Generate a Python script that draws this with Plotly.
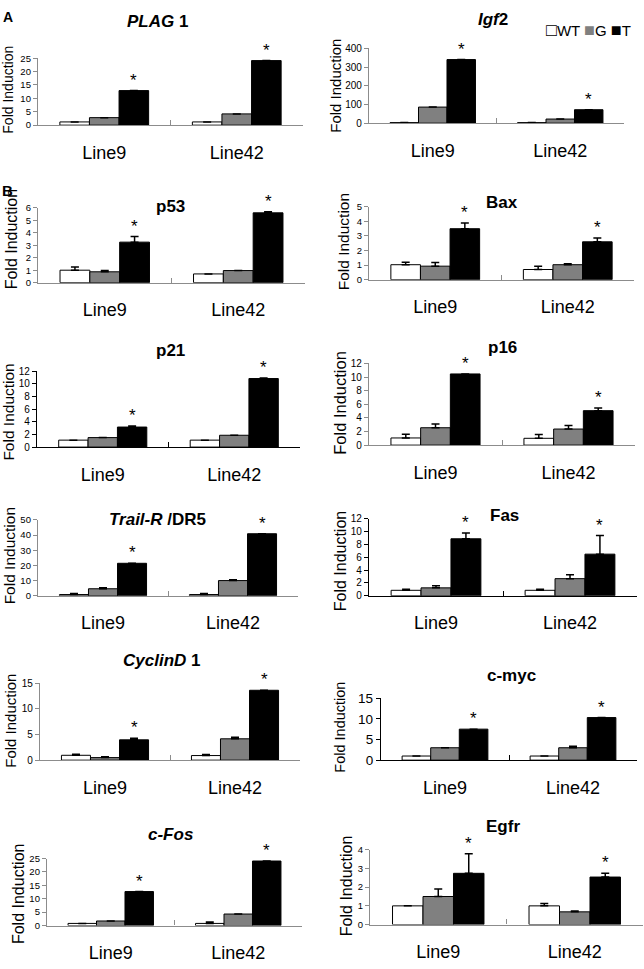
import plotly.graph_objects as go

# ---------------- data ----------------
CATEGORIES = ["Line9", "Line42"]
SERIES = ["WT", "G", "T"]
GENES = ["PLAG1", "Igf2", "p53", "Bax", "p21", "p16",
         "Trail-R/DR5", "Fas", "CyclinD1", "c-myc", "c-Fos", "Egfr"]
TITLES = ["<i>PLAG</i> 1", "<i>Igf</i>2", "p53", "Bax", "p21", "p16",
          "<i>Trail-R</i> /DR5", "Fas", "<i>CyclinD</i> 1", "c-myc", "<i>c-Fos</i>", "Egfr"]

WT_VALUES = [[1.2, 1.2], [3, 3], [1.0, 0.7], [1.03, 0.7], [1.1, 1.1], [1.05, 1.0],
             [0.8, 0.8], [0.85, 0.85], [0.95, 0.9], [1.0, 1.0], [0.8, 0.8], [1.0, 1.0]]
WT_ERR = [[0, 0], [0, 0], [0.25, 0], [0.17, 0.23], [0, 0], [0.55, 0.55],
          [0.7, 0.7], [0.15, 0.15], [0.2, 0.2], [0, 0], [0, 0.5], [0, 0.12]]
G_VALUES = [[2.8, 4.2], [86, 22], [0.87, 0.97], [0.93, 1.03], [1.5, 1.87], [2.55, 2.36],
            [4.6, 10.0], [1.23, 2.67], [0.5, 4.17], [3.0, 3.0], [1.7, 4.3], [1.5, 0.68]]
G_ERR = [[0, 0], [0, 0], [0.1, 0], [0.25, 0.07], [0, 0], [0.55, 0.53],
         [0.6, 0.6], [0.35, 0.6], [0.15, 0.3], [0, 0.35], [0, 0], [0.4, 0.05]]
T_VALUES = [[12.9, 24.1], [340, 72], [3.25, 5.6], [3.5, 2.6], [3.17, 10.85], [10.45, 5.06],
            [21.4, 40.9], [8.9, 6.5], [3.97, 13.65], [7.5, 10.3], [12.7, 24.1], [2.74, 2.54]]
T_ERR = [[0, 0], [0, 0], [0.45, 0.08], [0.4, 0.27], [0.15, 0.1], [0, 0.39],
         [0, 0], [0.9, 2.9], [0.3, 0], [0, 0], [0, 0], [1.05, 0.2]]

Y_MAX = [25, 400, 6, 5, 12, 12, 50, 12, 15, 15, 25, 4]
Y_DTICK = [5, 100, 1, 1, 2, 2, 10, 2, 5, 5, 5, 1]

# ---------------- layout config (pixels) ----------------
W, H = 644, 969
# plot box: x0, x1, ytop, ybottom
BOXES = [(38, 303, 52, 120), (369, 624, 42, 118),
         (38, 305, 204, 280), (369, 634, 203, 277),
         (37, 300, 370, 447), (369, 635, 362, 445),
         (38, 298, 521, 598), (369, 637, 520, 598),
         (40, 300, 687, 765), (381, 637, 702, 765),
         (47, 302, 865, 933), (370, 643, 856, 932)]
TITLE_POS = [(157, 15), (493, 13), (170, 203), (502, 199), (171, 349), (502, 346),
             (157, 521), (504, 516), (162, 664), (512, 679), (171, 841), (503, 832)]
YTITLE_POS = [(8, 84, 14), (336, 80, 15), (11, 236, 16), (343, 239, 15.5),
              (9, 412, 15.5), (340, 402, 16.5), (9, 558, 15.5), (340, 563, 16),
              (11, 725, 15), (340, 732, 14.5), (18, 901, 16), (346, 893, 16)]
TICK_SIZE = [9.5, 10, 9.5, 9.5, 10, 10, 9.5, 10, 10, 13.5, 9.5, 9.5]
BLACK_AXIS = [False, False, False, False, True, False, False, True, False, True, False, False]
FILLS = ["white", "#808080", "black"]
FONT = "Liberation Sans, Arial, sans-serif"
BARGAP = 0.33

fig = go.Figure()
annotations = []
layout = {}

for i, gene in enumerate(GENES):
    k = "" if i == 0 else str(i + 1)
    xa, ya = "x" + k, "y" + k
    x0, x1, yt, yb = BOXES[i]
    vals = [WT_VALUES[i], G_VALUES[i], T_VALUES[i]]
    errs = [WT_ERR[i], G_ERR[i], T_ERR[i]]
    for s, name in enumerate(SERIES):
        fig.add_trace(go.Bar(
            x=CATEGORIES, y=vals[s], name=name, xaxis=xa, yaxis=ya,
            marker=dict(color=FILLS[s], line=dict(color="black", width=1)),
            error_y=dict(type="data", array=errs[s], arrayminus=[0, 0], symmetric=False,
                         color="black", thickness=1.5, width=4,
                         visible=True),
            showlegend=False, offsetgroup=str(s),
        ))
    axcol = "black" if BLACK_AXIS[i] else "#8c8c8c"
    layout["xaxis" + k] = dict(
        domain=[x0 / W, x1 / W], anchor=ya, type="category",
        categoryorder="array", categoryarray=CATEGORIES,
        showline=True, linecolor=axcol, linewidth=1.3,
        ticks="inside", tickson="boundaries", ticklen=5, tickcolor=axcol, tickwidth=1.3,
        tickfont=dict(family=FONT, size=18, color="black"), ticklabelstandoff=11,
        showgrid=False, zeroline=False, fixedrange=True,
    )
    layout["yaxis" + k] = dict(
        domain=[(H - yb) / H, (H - yt) / H], anchor=xa,
        range=[0, Y_MAX[i]], dtick=Y_DTICK[i], tick0=0,
        showline=True, linecolor=axcol, linewidth=1.3,
        ticks="outside", ticklen=4, tickcolor=axcol, tickwidth=1.3,
        tickfont=dict(family=FONT, size=TICK_SIZE[i], color="black"),
        showgrid=False, zeroline=False, fixedrange=True,
    )
    # title
    tx, ty = TITLE_POS[i]
    annotations.append(dict(text="<b>" + TITLES[i] + "</b>", x=tx / W, y=1 - ty / H,
                            xref="paper", yref="paper", showarrow=False,
                            xanchor="center", yanchor="middle",
                            font=dict(family=FONT, size=17, color="black")))
    # y title
    fx, fy, fs = YTITLE_POS[i]
    annotations.append(dict(text="Fold Induction", x=fx / W, y=1 - fy / H,
                            xref="paper", yref="paper", showarrow=False, textangle=-90,
                            xanchor="center", yanchor="middle",
                            font=dict(family=FONT, size=fs, color="black")))
    # significance stars above T bars
    toff = (1 - BARGAP) / 3
    for c in range(len(CATEGORIES)):
        annotations.append(dict(text="*", x=c + toff, y=T_VALUES[i][c] + T_ERR[i][c],
                                xref=xa, yref=ya, showarrow=False,
                                xanchor="center", yanchor="bottom", yshift=-1,
                                font=dict(family=FONT, size=17, color="black")))

# panel letters
annotations.append(dict(text="<b>A</b>", x=8 / W, y=1 - 10 / H, xref="paper", yref="paper",
                        showarrow=False, xanchor="center", yanchor="middle",
                        font=dict(family=FONT, size=14, color="black")))
annotations.append(dict(text="<b>B</b>", x=7 / W, y=1 - 186 / H, xref="paper", yref="paper",
                        showarrow=False, xanchor="center", yanchor="middle",
                        font=dict(family=FONT, size=15, color="black")))
# legend key
legend_txt = ("<span style='font-size:18px'>□</span>WT "
              "<span style='color:#808080;font-size:18px'>■</span>G "
              "<span style='font-size:18px'>■</span>T")
annotations.append(dict(text=legend_txt, x=588 / W, y=1 - 23 / H, xref="paper", yref="paper",
                        showarrow=False, xanchor="center", yanchor="middle",
                        font=dict(family=FONT, size=15, color="black")))

fig.update_layout(
    width=W, height=H, margin=dict(l=0, r=0, t=0, b=0),
    paper_bgcolor="white", plot_bgcolor="white",
    barmode="group", bargap=BARGAP, bargroupgap=0,
    annotations=annotations, showlegend=False,
    **layout,
)

fig.write_html("out.html", config={"displayModeBar": False},
               post_script="document.body.style.margin='0';document.body.style.overflow='hidden';")
